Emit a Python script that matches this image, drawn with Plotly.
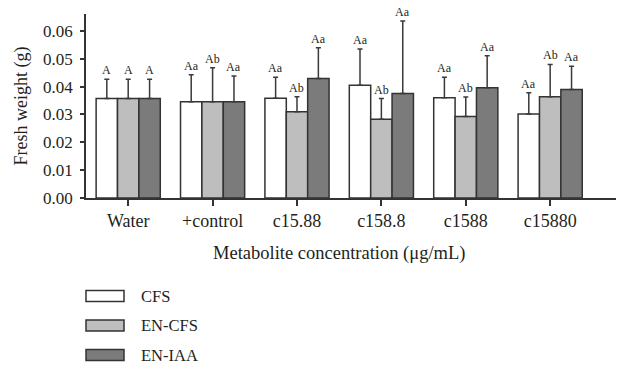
import plotly.graph_objects as go

# Treatment groups along the x axis
categories = ["Water", "+control", "c15.88", "c158.8", "c1588", "c15880"]

# Mean fresh weight (g) per treatment
cfs = [0.0357, 0.0346, 0.0358, 0.0405, 0.0360, 0.0302]
en_cfs = [0.0357, 0.0346, 0.0310, 0.0283, 0.0293, 0.0364]
en_iaa = [0.0357, 0.0346, 0.0429, 0.0375, 0.0396, 0.0390]

# Upper error (g)
cfs_err = [0.0070, 0.0097, 0.0076, 0.0130, 0.0074, 0.0076]
en_cfs_err = [0.0070, 0.0122, 0.0054, 0.0074, 0.0070, 0.0116]
en_iaa_err = [0.0070, 0.0092, 0.0111, 0.0261, 0.0115, 0.0083]

# Significance letters
cfs_sig = ["A", "Aa", "Aa", "Aa", "Aa", "Aa"]
en_cfs_sig = ["A", "Ab", "Ab", "Ab", "Ab", "Ab"]
en_iaa_sig = ["A", "Aa", "Aa", "Aa", "Aa", "Aa"]

series_names = ["CFS", "EN-CFS", "EN-IAA"]
y_ticks = [0.00, 0.01, 0.02, 0.03, 0.04, 0.05, 0.06]

FONT = "Liberation Serif"
INK = "#231f20"
EDGE = "#333333"
fills = ["#ffffff", "#bebebe", "#7b7b7b"]

W, H = 618, 370
L, R, T, B = 86, 2, 14, 172
BARGAP = 0.24

x_idx = list(range(len(categories)))
values = [cfs, en_cfs, en_iaa]
errors = [cfs_err, en_cfs_err, en_iaa_err]
sigs = [cfs_sig, en_cfs_sig, en_iaa_sig]

fig = go.Figure()
for name, v, e, c in zip(series_names, values, errors, fills):
    fig.add_trace(go.Bar(
        x=x_idx, y=v, name=name,
        marker=dict(color=c, line=dict(color=EDGE, width=1.5)),
        error_y=dict(type="data", array=e, symmetric=False,
                     arrayminus=[0] * len(e), color="#3a3a3a",
                     thickness=1.5, width=2.5),
        showlegend=False,
    ))

# Letters above each error bar
bw = (1 - BARGAP) / 3
annotations = []
for k, (v, e, s) in enumerate(zip(values, errors, sigs)):
    off = (k - 1) * bw
    for i in x_idx:
        annotations.append(dict(
            x=i + off, y=v[i] + e[i], xref="x", yref="y",
            text=s[i], showarrow=False, yanchor="bottom", yshift=0,
            font=dict(family=FONT, size=12, color=INK)))

# x axis title, centred under the groups
annotations.append(dict(
    x=(len(categories) - 1) / 2, y=-0.0, xref="x", yref="paper",
    text="Metabolite concentration (\u03bcg/mL)", showarrow=False,
    yanchor="middle", yshift=-55,
    font=dict(family=FONT, size=18.5, color=INK)))

# Legend drawn below the chart
pw, ph = W - L - R, H - T - B


def px_x(p):
    return (p - L) / pw


def px_y(p):
    return (H - B - p) / ph


shapes = []
leg_tops = [290.5, 320, 349.5]
for name, c, top in zip(series_names, fills, leg_tops):
    shapes.append(dict(type="rect", xref="paper", yref="paper",
                       x0=px_x(86), x1=px_x(124),
                       y0=px_y(top + 11), y1=px_y(top),
                       fillcolor=c, line=dict(color=EDGE, width=1.5)))
    annotations.append(dict(x=px_x(139), y=px_y(top + 5.5), xref="paper",
                            yref="paper", text=name, showarrow=False,
                            xanchor="left", yanchor="middle",
                            font=dict(family=FONT, size=16.5, color=INK)))

fig.update_layout(
    width=W, height=H,
    margin=dict(l=L, r=R, t=T, b=B),
    paper_bgcolor="white", plot_bgcolor="white",
    barmode="group", bargap=BARGAP, bargroupgap=0,
    font=dict(family=FONT, size=17, color=INK),
    annotations=annotations, shapes=shapes,
    xaxis=dict(range=[-0.5, 5.78], tickmode="array", tickvals=x_idx,
               ticktext=categories, showline=True, linecolor=EDGE,
               linewidth=1.5, ticks="outside", ticklen=6, tickwidth=1.5,
               tickcolor=EDGE, showgrid=False, zeroline=False,
               tickfont=dict(family=FONT, size=18, color=INK)),
    yaxis=dict(range=[0, 0.0661], tickmode="array", tickvals=y_ticks,
               tickformat=".2f", showline=True, linecolor=EDGE,
               linewidth=1.5, ticks="outside", ticklen=4, tickwidth=1.5,
               tickcolor=EDGE, showgrid=False, zeroline=False,
               ticklabelstandoff=4,
               tickfont=dict(family=FONT, size=17, color=INK),
               title=dict(text="Fresh weight (g)", standoff=11,
                          font=dict(family=FONT, size=18, color=INK))),
)

fig.write_html("out.html")
